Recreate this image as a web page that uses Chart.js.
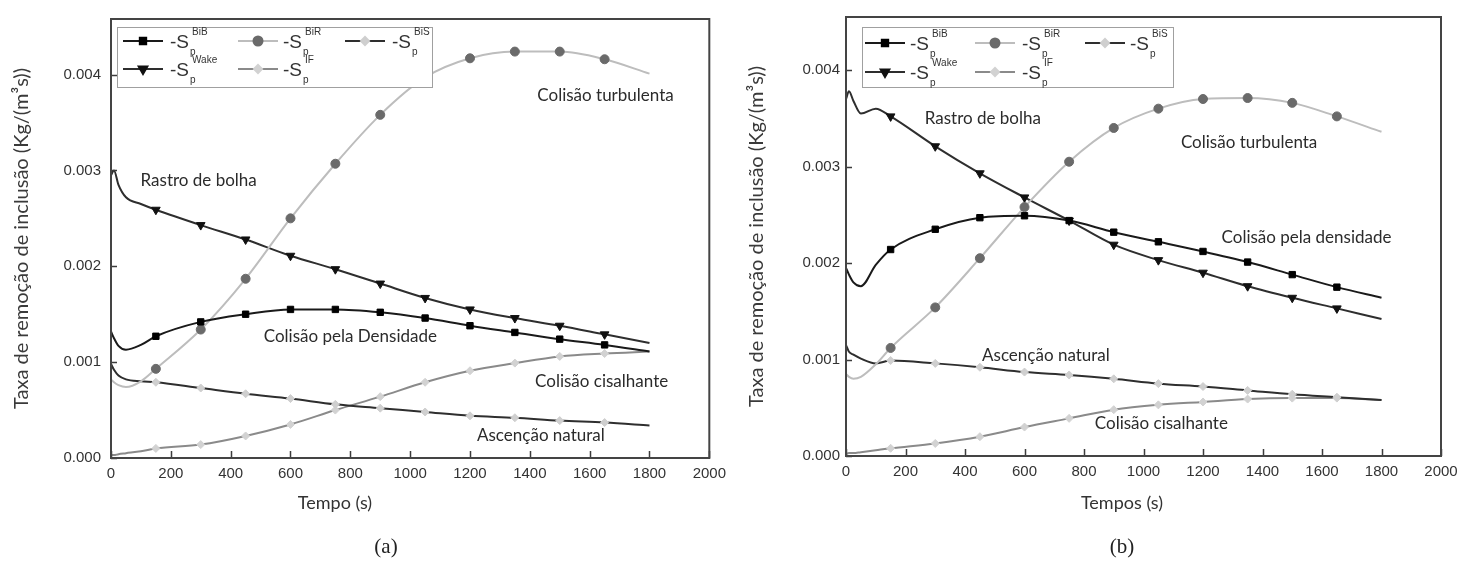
<!DOCTYPE html>
<html>
<head>
<meta charset="utf-8">
<script src="https://cdn.jsdelivr.net/npm/chart.js@4.4.1/dist/chart.umd.min.js"></script>
<style>
  html, body { margin: 0; padding: 0; background: #fff; }
  body { width: 1466px; height: 575px; position: relative; overflow: hidden; }
  .panel { position: absolute; top: 0; width: 733px; height: 525px; }
  #panelA { left: 0; }
  #panelB { left: 733px; }
  .xtitle { position: absolute; top: 491px; font: 18px Lato, sans-serif; color: #333; transform: translateX(-50%); white-space: nowrap; }
  .caption { position: absolute; top: 534px; font: 21px "Liberation Serif", "DejaVu Serif", serif; color: #222; transform: translateX(-50%); }
</style>
</head>
<body>
<div class="panel" id="panelA"><canvas id="chartA"></canvas></div>
<div class="panel" id="panelB"><canvas id="chartB"></canvas></div>
<div class="xtitle" style="left:335px">Tempo (s)</div>
<div class="xtitle" style="left:1122px">Tempos (s)</div>
<div class="caption" style="left:386px">(a)</div>
<div class="caption" style="left:1122px">(b)</div>

<script>
// Values (time in s, rate in kg/(m3 s))
const times = [0, 10, 25, 50, 100, 150, 300, 450, 600, 750, 900, 1050, 1200, 1350, 1500, 1650, 1800];
const markerTimes = [150, 300, 450, 600, 750, 900, 1050, 1200, 1350, 1500, 1650];
const xTicks = [0, 200, 400, 600, 800, 1000, 1200, 1400, 1600, 1800, 2000];
const yTicks = [0, 0.001, 0.002, 0.003, 0.004];
const seriesNames = ["BiB", "BiR", "BiS", "Wake", "IF"];

// panel (a)
const bibA  = [0.00132, 0.00125, 0.00117, 0.00113, 0.00118, 0.00127, 0.00142, 0.00150, 0.00155, 0.00155, 0.00152, 0.00146, 0.00138, 0.00131, 0.00124, 0.00118, 0.00111];
const birA  = [0.00082, 0.00079, 0.00076, 0.00074, 0.00080, 0.00093, 0.00134, 0.00187, 0.00250, 0.00307, 0.00358, 0.00397, 0.00417, 0.00424, 0.00424, 0.00416, 0.00401];
const bisA  = [0.00098, 0.00092, 0.00086, 0.00082, 0.00080, 0.00079, 0.00073, 0.00067, 0.00062, 0.00056, 0.00052, 0.00048, 0.00044, 0.00042, 0.00039, 0.00037, 0.00034];
const wakeA = [0.00295, 0.00300, 0.00285, 0.00272, 0.00265, 0.00259, 0.00243, 0.00228, 0.00211, 0.00197, 0.00182, 0.00167, 0.00155, 0.00146, 0.00138, 0.00129, 0.00120];
const ifA   = [0.00003, 0.00003, 0.00004, 0.00005, 0.00007, 0.00010, 0.00014, 0.00023, 0.00035, 0.00050, 0.00064, 0.00079, 0.00091, 0.00099, 0.00106, 0.00109, 0.00111];

// panel (b)
const bibB  = [0.00195, 0.00188, 0.00180, 0.00176, 0.00198, 0.00214, 0.00235, 0.00247, 0.00249, 0.00244, 0.00232, 0.00222, 0.00212, 0.00201, 0.00188, 0.00175, 0.00164];
const birB  = [0.00085, 0.00082, 0.00080, 0.00082, 0.00095, 0.00112, 0.00154, 0.00205, 0.00258, 0.00305, 0.00340, 0.00360, 0.00370, 0.00371, 0.00366, 0.00352, 0.00336];
const bisB  = [0.00115, 0.00108, 0.00105, 0.00101, 0.00096, 0.00099, 0.00096, 0.00092, 0.00087, 0.00084, 0.00080, 0.00075, 0.00072, 0.00068, 0.00064, 0.00061, 0.00058];
const wakeB = [0.00370, 0.00378, 0.00368, 0.00355, 0.00360, 0.00352, 0.00321, 0.00293, 0.00268, 0.00244, 0.00219, 0.00203, 0.00190, 0.00176, 0.00164, 0.00153, 0.00142];
const ifB   = [0.00002, 0.00003, 0.00003, 0.00004, 0.00006, 0.00008, 0.00013, 0.00020, 0.00030, 0.00039, 0.00048, 0.00053, 0.00056, 0.00059, 0.00060, 0.00060, 0.00058];

// curve labels, placed in data coordinates
const notesA = [
    { text: "Colisão turbulenta", x: 1653, y: 0.00378 },
    { text: "Rastro de bolha", x: 293, y: 0.00289 },
    { text: "Colisão pela Densidade", x: 800, y: 0.00127 },
    { text: "Colisão cisalhante", x: 1640, y: 0.000794 },
    { text: "Ascenção natural", x: 1437, y: 0.000237 },
];
const notesB = [
    { text: "Rastro de bolha", x: 460, y: 0.00350 },
    { text: "Colisão turbulenta", x: 1355, y: 0.00325 },
    { text: "Colisão pela densidade", x: 1548, y: 0.00226 },
    { text: "Ascenção natural", x: 672, y: 0.00104 },
    { text: "Colisão cisalhante", x: 1060, y: 0.000332 },
];

const Y_TITLE = "Taxa de remoção de inclusão (Kg/(m³s))";
const TICK_FONT = { family: "'Liberation Sans', Arial, sans-serif", size: 15 };
const TEXT = "#333";

// marker / line look per series
const STYLES = [
    { line: "#1a1a1a", marker: "#000000", shape: "rect", radius: 4.5, rotation: 0 },
    { line: "#bdbdbd", marker: "#6a6a6a", shape: "circle", radius: 4.5, rotation: 0 },
    { line: "#2e2e2e", marker: "#cfcfcf", shape: "rectRot", radius: 4, rotation: 0 },
    { line: "#2e2e2e", marker: "#111111", shape: "triangle", radius: 5, rotation: 180 },
    { line: "#8a8a8a", marker: "#d2d2d2", shape: "rectRot", radius: 4, rotation: 0 },
];
const LEGEND_CELLS = [[0, 0], [1, 0], [2, 0], [0, 1], [1, 1]];

// frame around the plot + inward tick marks
const framePlugin = {
    id: "frame",
    afterDatasetsDraw(chart) {
        const { ctx, chartArea: ca, scales } = chart;
        ctx.save();
        ctx.strokeStyle = "#3c3c3c";
        ctx.lineWidth = 1.5;
        ctx.beginPath();
        scales.x.ticks.forEach(t => {
            const px = Math.round(scales.x.getPixelForValue(t.value)) + 0.5;
            ctx.moveTo(px, ca.bottom);
            ctx.lineTo(px, ca.bottom - 7);
        });
        scales.y.ticks.forEach(t => {
            const py = Math.round(scales.y.getPixelForValue(t.value)) + 0.5;
            ctx.moveTo(ca.left, py);
            ctx.lineTo(ca.left + 6, py);
        });
        ctx.stroke();
        ctx.strokeStyle = "#444";
        ctx.lineWidth = 2;
        ctx.strokeRect(ca.left, ca.top, ca.right - ca.left, ca.bottom - ca.top);
        ctx.restore();
    },
};

// legend box with -S_p^name entries
const legendPlugin = {
    id: "boxLegend",
    afterDatasetsDraw(chart, args, o) {
        const { ctx, chartArea: ca } = chart;
        const bx = ca.left + o.dx, by = ca.top + o.dy;
        ctx.save();
        ctx.fillStyle = "#fff";
        ctx.fillRect(bx, by, o.w, o.h);
        ctx.strokeStyle = "#a0a0a0";
        ctx.lineWidth = 1;
        ctx.strokeRect(bx + 0.5, by + 0.5, o.w, o.h);
        chart.data.datasets.forEach((ds, i) => {
            const [col, row] = LEGEND_CELLS[i];
            const st = STYLES[i];
            const y = by + o.rows[row];
            const x0 = bx + o.sampleX[col], x1 = x0 + 40;
            ctx.strokeStyle = st.line;
            ctx.lineWidth = 2;
            ctx.beginPath();
            ctx.moveTo(x0, y);
            ctx.lineTo(x1, y);
            ctx.stroke();
            ctx.fillStyle = st.marker;
            ctx.strokeStyle = st.marker;
            Chart.helpers.drawPoint(ctx, { pointStyle: st.shape, rotation: st.rotation, radius: st.radius, borderWidth: 1 }, (x0 + x1) / 2, y);
            const tx = bx + o.textX[col];
            ctx.fillStyle = TEXT;
            ctx.textBaseline = "alphabetic";
            ctx.textAlign = "left";
            ctx.font = "19px 'Liberation Sans', Arial, sans-serif";
            ctx.fillText("-S", tx, y + 7);
            const w = ctx.measureText("-S").width;
            ctx.font = "10px 'Liberation Sans', Arial, sans-serif";
            ctx.fillText("p", tx + w + 1, y + 14);
            ctx.fillText(ds.label, tx + w + 3, y - 6);
        });
        ctx.restore();
    },
};

const notesPlugin = {
    id: "notes",
    afterDatasetsDraw(chart, args, o) {
        const { ctx, scales } = chart;
        ctx.save();
        ctx.fillStyle = "#2b2b2b";
        ctx.font = "17px Lato, 'Open Sans', sans-serif";
        ctx.textAlign = "center";
        ctx.textBaseline = "middle";
        o.items.forEach(n => {
            ctx.fillText(n.text, scales.x.getPixelForValue(n.x), scales.y.getPixelForValue(n.y));
        });
        ctx.restore();
    },
};

function buildPanel(canvasId, series, notes, p) {
    const datasets = series.map((vals, i) => {
        const st = STYLES[i];
        return {
            label: seriesNames[i],
            data: times.map((t, k) => ({ x: t, y: vals[k] })),
            borderColor: st.line,
            borderWidth: 2,
            backgroundColor: st.marker,
            pointBackgroundColor: st.marker,
            pointBorderColor: st.marker,
            pointBorderWidth: 1,
            pointStyle: st.shape,
            pointRotation: st.rotation,
            pointRadius: ctx => markerTimes.includes(times[ctx.dataIndex]) ? st.radius : 0,
            pointHoverRadius: 0,
            cubicInterpolationMode: "monotone",
        };
    });

    return new Chart(document.getElementById(canvasId), {
        type: "line",
        data: { datasets },
        options: {
            responsive: true,
            maintainAspectRatio: false,
            animation: false,
            events: [],
            layout: { padding: { left: 0, top: p.top, right: p.right, bottom: 0 } },
            plugins: {
                legend: { display: false },
                tooltip: { enabled: false },
                boxLegend: p.legend,
                notes: { items: notes },
            },
            scales: {
                x: {
                    type: "linear",
                    min: 0,
                    max: 2000,
                    afterBuildTicks: s => { s.ticks = xTicks.map(v => ({ value: v })); },
                    afterFit: s => { s.height = p.xHeight; },
                    grid: { display: false, drawTicks: false },
                    border: { display: false },
                    ticks: { padding: 7, color: TEXT, font: TICK_FONT, maxRotation: 0, autoSkip: false, callback: v => String(v) },
                },
                y: {
                    type: "linear",
                    min: 0,
                    max: p.yMax,
                    afterBuildTicks: s => { s.ticks = yTicks.map(v => ({ value: v })); },
                    afterFit: s => { s.width = p.yWidth; },
                    grid: { display: false, drawTicks: false },
                    border: { display: false },
                    ticks: { padding: p.yPad, color: TEXT, font: TICK_FONT, callback: v => v.toFixed(3) },
                    title: {
                        display: true,
                        text: Y_TITLE,
                        color: "#3a3a3a",
                        font: { family: "Lato, 'Open Sans', sans-serif", size: 20 },
                        padding: { top: p.yTitlePad, bottom: 0 },
                    },
                },
            },
        },
        plugins: [framePlugin, legendPlugin, notesPlugin],
    });
}

buildPanel("chartA", [bibA, birA, bisA, wakeA, ifA], notesA, {
    top: 14, right: 22, xHeight: 67, yWidth: 111, yMax: 0.00458, yPad: 10, yTitlePad: 10,
    legend: { dx: 6, dy: 8, w: 315, h: 60, sampleX: [6, 121, 228], textX: [53, 166, 275], rows: [14, 42] },
});
buildPanel("chartB", [bibB, birB, bisB, wakeB, ifB], notesB, {
    top: 17, right: 25, xHeight: 69, yWidth: 113, yMax: 0.00455, yPad: 6, yTitlePad: 12,
    legend: { dx: 16, dy: 10, w: 311, h: 60, sampleX: [3, 113, 223], textX: [48, 160, 268], rows: [16, 45] },
});
</script>
</body>
</html>
